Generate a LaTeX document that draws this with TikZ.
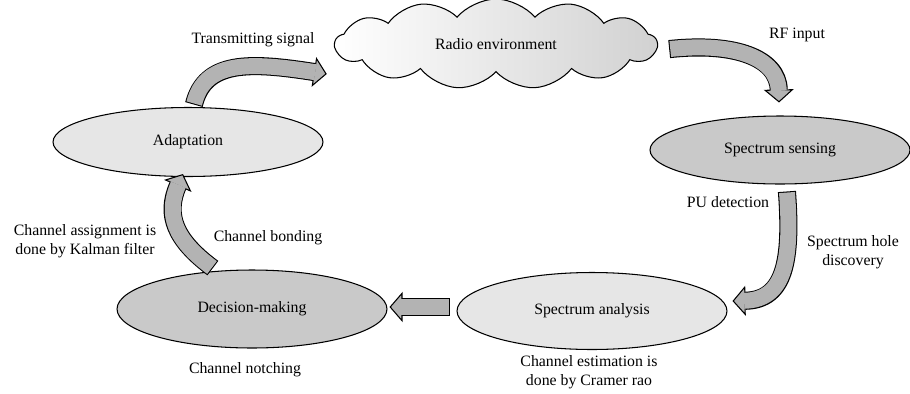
\documentclass[tikz,border=0pt]{standalone}
\usepackage{fontspec}
\setmainfont{Liberation Serif}
\usetikzlibrary{shapes.geometric,shapes.symbols,arrows.meta,calc}
\definecolor{lightfill}{HTML}{E6E6E6}
\definecolor{darkfill}{HTML}{C9C9C9}
\definecolor{arrowgray}{HTML}{B3B3B3}
\tikzset{
  stage/.style={ellipse, draw, line width=0.6pt, inner sep=0pt},
  note/.style={align=center, inner sep=0pt},
  flow/.style={draw=black, line width=10.3pt, shorten <=-0.6pt,
    -{Triangle[length=7.4pt,width=17pt,line width=0.6pt,fill=arrowgray]},
    postaction={draw=arrowgray, line width=9.1pt, arrows=-, shorten <=0pt, shorten >=6.6pt}}
}
\begin{document}
\begin{tikzpicture}[x=0.02cm, y=-0.02cm, font=\rmfamily\fontsize{9}{10.8}\selectfont]
\useasboundingbox (0,0) rectangle (910,393);
% cycle stages
\node[cloud, cloud puffs=13, cloud puff arc=100, aspect=4, draw, line width=0.6pt,
  left color=white, right color=black!18, minimum width=6.44cm, minimum height=1.8cm] (radio) at (496,44) {Radio environment};
\node[stage, fill=lightfill, minimum width=5.4cm, minimum height=1.38cm] (adapt) at (188,142) {Adaptation};
\node[stage, fill=darkfill, minimum width=5.2cm, minimum height=1.36cm] (sense) at (780,150) {Spectrum sensing};
\node[stage, fill=darkfill, minimum width=5.4cm, minimum height=1.56cm] (decide) at (252,309) {Decision-making};
\node[stage, fill=lightfill, minimum width=5.4cm, minimum height=1.54cm] (analyse) at (592,311) {Spectrum analysis};
% labels
\node[note] (sig) at (253,40) {Transmitting signal};
\node[note] (rf) at (797,35) {RF input};
\node[note] (pu) at (728,202) {PU detection};
\node[note] (hole) at (853,252) {Spectrum hole\\discovery};
\node[note] (assign) at (85,241) {Channel assignment is\\done by Kalman filter};
\node[note] (bond) at (268,238) {Channel bonding};
\node[note] (notch) at (245,370) {Channel notching};
\node[note] (est) at (589,372) {Channel estimation is\\done by Cramer rao};
% arrows
\draw[flow] ([yshift=2pt]adapt.80) .. controls (205,60) and (250,62) .. ($(radio.west)+(-7,30)$);
\draw[flow] ($(radio.east)+(12,5)$) .. controls (735,42) and (778,58) .. ($(sense.north)+(-1,-13)$);
\draw[flow] ($(sense.south)+(7,8)$) .. controls (792,260) and (785,300) .. ($(analyse.east)+(5,-10)$);
\draw[flow] ($(analyse.west)+(-8,-4)$) -- ($(decide.east)+(2,-2)$);
\draw[flow] ($(decide.north)+(-40,-2)$) .. controls (175,240) and (165,215) .. ($(adapt.south)+(-5,-3)$);
\end{tikzpicture}
\end{document}
